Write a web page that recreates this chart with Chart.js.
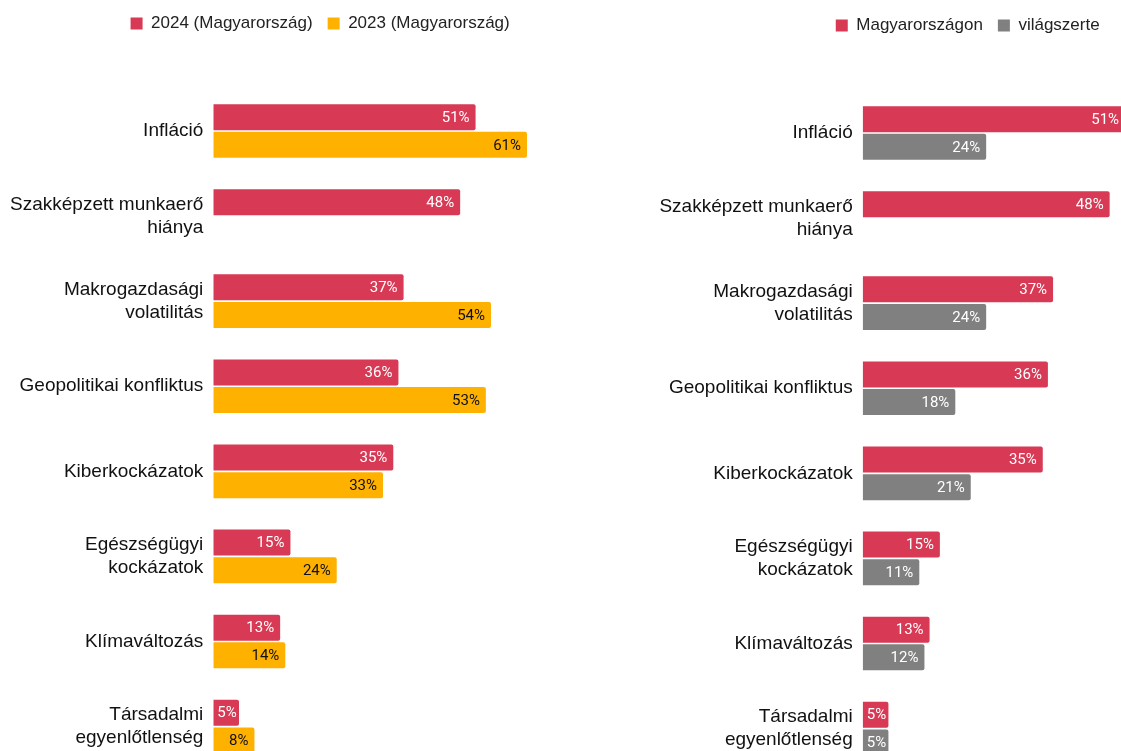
<!DOCTYPE html>
<html>
<head>
<meta charset="utf-8">
<script src="https://cdn.jsdelivr.net/npm/chart.js@4"></script>
<style>
  html, body { margin: 0; padding: 0; background: #fff; overflow: hidden; width: 1121px; height: 751px; }
  #left { position: absolute; left: 0; top: 0; }
  #right { position: absolute; left: 600px; top: 0; }
</style>
</head>
<body>
<canvas id="left" width="635" height="780"></canvas>
<canvas id="right" width="700" height="780"></canvas>
<script>
// categories (multi-line labels as arrays)
const categories = [
  'Infláció',
  ['Szakképzett munkaerő', 'hiánya'],
  ['Makrogazdasági', 'volatilitás'],
  'Geopolitikai konfliktus',
  'Kiberkockázatok',
  ['Egészségügyi', 'kockázatok'],
  'Klímaváltozás',
  ['Társadalmi', 'egyenlőtlenség']
];

// left chart: Hungary 2024 vs 2023
const hu2024 = [51, 48, 37, 36, 35, 15, 13, 5];
const hu2023 = [61, null, 54, 53, 33, 24, 14, 8];

// right chart: Hungary vs worldwide
const huNow = [51, 48, 37, 36, 35, 15, 13, 5];
const world = [24, null, 24, 18, 21, 11, 12, 5];

const RED = '#d83a55';
const YELLOW = '#ffb100';
const GREY = '#808080';

// values written at the end of each bar
const barLabels = {
  id: 'barLabels',
  afterDatasetsDraw(chart) {
    const ctx = chart.ctx;
    chart.data.datasets.forEach((ds, i) => {
      const meta = chart.getDatasetMeta(i);
      meta.data.forEach((bar, j) => {
        const v = ds.data[j];
        if (v == null) return;
        const text = v + '%';
        ctx.save();
        ctx.font = '15px Roboto';
        ctx.fillStyle = ds.labelColor;
        ctx.textBaseline = 'middle';
        ctx.textAlign = 'left';
        const w = ctx.measureText(text).width;
        let x = bar.x - 6 - w;
        x = Math.max(x, bar.base + 4);
        ctx.fillText(text, x, bar.y + 1);
        ctx.restore();
      });
    });
  }
};

// extra room under the legend
const legendGap = {
  id: 'legendGap',
  afterInit(chart) {
    const fit = chart.legend.fit;
    chart.legend.fit = function () {
      fit.call(this);
      this.height += 46.5;
    };
  }
};

function makeChart(id, sets, xMax, axisWidth, padding) {
  return new Chart(document.getElementById(id), {
    type: 'bar',
    data: {
      labels: categories,
      datasets: sets.map(s => ({
        label: s.label,
        data: s.data,
        backgroundColor: s.color,
        labelColor: s.labelColor,
        borderRadius: 2,
        borderSkipped: 'start',
        categoryPercentage: 0.65,
        barPercentage: 0.94
      }))
    },
    options: {
      indexAxis: 'y',
      responsive: false,
      animation: false,
      layout: { padding: padding },
      scales: {
        x: { display: false, min: 0, max: xMax },
        y: {
          grid: { display: false, drawTicks: false },
          border: { display: false },
          ticks: {
            padding: 10,
            color: '#111',
            font: { family: 'Liberation Sans', size: 19 }
          },
          afterFit(scale) {
            scale.width = axisWidth;
            scale.paddingTop = 0;
            scale.paddingBottom = 0;
          }
        }
      },
      plugins: {
        legend: {
          position: 'top',
          labels: {
            boxWidth: 12,
            boxHeight: 12,
            padding: 15,
            color: '#222',
            font: { family: 'Liberation Sans', size: 17 }
          }
        },
        tooltip: { enabled: false }
      }
    },
    plugins: [barLabels, legendGap]
  });
}

makeChart('left', [
  { label: '2024 (Magyarország)', data: hu2024, color: RED, labelColor: '#fff' },
  { label: '2023 (Magyarország)', data: hu2023, color: YELLOW, labelColor: '#111' }
], 82, 208, { left: 5.3, right: 0, top: 0, bottom: 10.9 });

makeChart('right', [
  { label: 'Magyarországon', data: huNow, color: RED, labelColor: '#fff' },
  { label: 'világszerte', data: world, color: GREY, labelColor: '#fff' }
], 85, 227.3, { left: 35.4, right: 0, top: 2, bottom: 8.9 });
</script>
</body>
</html>
